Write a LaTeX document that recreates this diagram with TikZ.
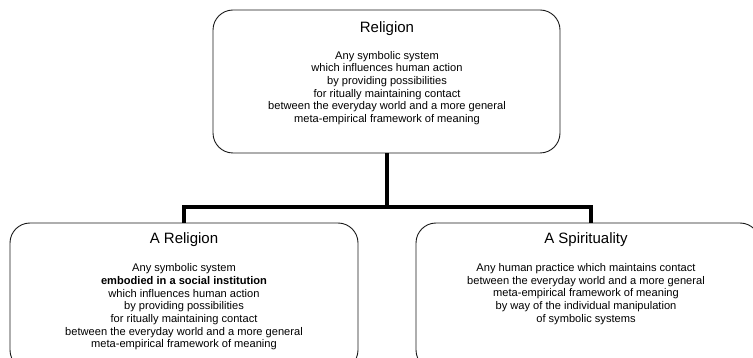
\documentclass[tikz,border=0pt]{standalone}
\usepackage{fontspec}
\setmainfont{Liberation Sans}
\begin{document}
\begin{tikzpicture}[x=1pt,y=-1pt,
  boxstyle/.style={draw=black!90, line width=0.9pt, rounded corners=20pt, rectangle, inner sep=0pt},
  titlestyle/.style={font=\fontsize{15}{18}\selectfont, text=black, inner sep=0pt},
  bodystyle/.style={font=\fontsize{11.1}{12.7}\selectfont, text=black, align=center, inner sep=0pt},
  linkstyle/.style={line width=4pt, draw=black}]
\clip (0,0) rectangle (753,358);
\useasboundingbox (0,0) rectangle (753,358);
% boxes
\node[boxstyle, minimum width=347pt, minimum height=143pt] (top) at (386.5,81.5) {};
\node[boxstyle, minimum width=348pt, minimum height=147pt] (left) at (184,296.5) {};
\node[boxstyle, minimum width=344pt, minimum height=147pt] (right) at (588,296.5) {};
% titles
\node[titlestyle] (toptitle) at (387,29) {Religion};
\node[titlestyle] (lefttitle) at (184,240) {A Religion};
\node[titlestyle] (righttitle) at (586,240) {A Spirituality};
% bodies
\node[bodystyle] (topbody) at (387,88) {Any symbolic system\\which influences human action\\by providing possibilities\\for ritually maintaining contact\\between the everyday world and a more general\\meta-empirical framework of meaning};
\node[bodystyle] (leftbody) at (184,307) {Any symbolic system\\\textbf{embodied in a social institution}\\which influences human action\\by providing possibilities\\for ritually maintaining contact\\between the everyday world and a more general\\meta-empirical framework of meaning};
\node[bodystyle] (rightbody) at (586,294) {Any human practice which maintains contact\\between the everyday world and a more general\\meta-empirical framework of meaning\\by way of the individual manipulation\\of symbolic systems};
% connectors
\coordinate (junction) at (387,207);
\coordinate (rightdrop) at (591,223);
\draw[linkstyle] (top.south -| junction) -- (junction);
\draw[linkstyle, line join=miter] (left.north) -- (left.north |- junction) -- (rightdrop |- junction) -- (rightdrop);
\end{tikzpicture}
\end{document}
